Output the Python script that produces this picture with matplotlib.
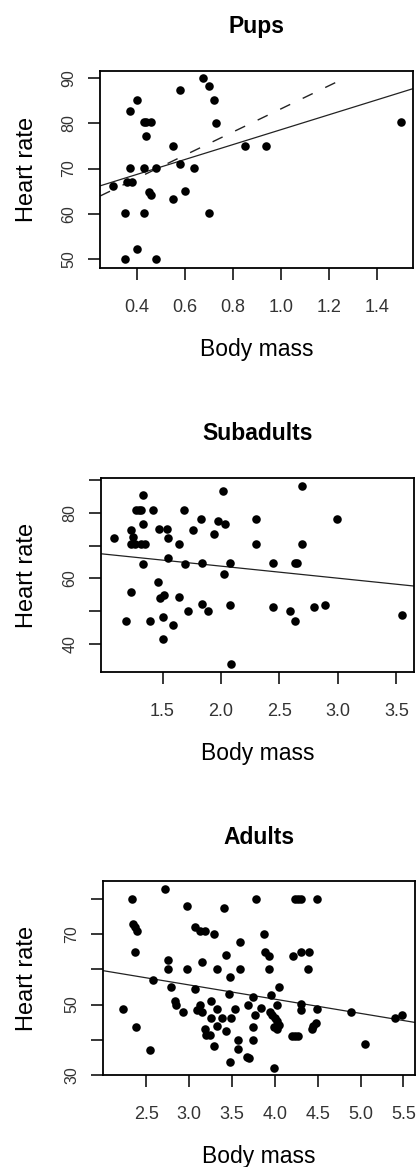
import matplotlib.pyplot as plt
import numpy as np

plt.rcParams['font.family'] = ['Liberation Sans', 'DejaVu Sans']

# Pups
pups_mass = [0.30, 0.35, 0.35, 0.37, 0.37, 0.36, 0.38, 0.40, 0.40,
             0.43, 0.44, 0.46, 0.44, 0.43, 0.43, 0.45, 0.46, 0.48, 0.48,
             0.55, 0.55, 0.58, 0.58, 0.60, 0.64, 0.675, 0.70, 0.70, 0.72,
             0.73, 0.85, 0.94, 1.50]
pups_hr = [66.2, 60.1, 50.0, 82.8, 70.2, 67.1, 67.1, 85.1, 52.2,
           80.3, 80.3, 80.3, 77.2, 70.2, 60.1, 64.9, 64.2, 70.2, 50.0,
           74.9, 63.2, 87.3, 71.0, 65.1, 70.2, 90.0, 88.2, 60.1, 85.1,
           80.2, 75.0, 75.0, 80.3]
pups_fit = (62.1, 16.5)        # intercept, slope (solid)
pups_fit_dash = (57.6, 25.6)   # fit without the outlier (dashed)
pups_dash_end = 1.26

# Subadults
sub_mass = [1.086, 1.186, 1.231, 1.229, 1.23, 1.25, 1.265, 1.27, 1.30, 1.32,
            1.33, 1.33, 1.32, 1.35, 1.337, 1.394, 1.417, 1.46, 1.466, 1.48,
            1.517, 1.50, 1.50, 1.537, 1.543, 1.543, 1.589, 1.637, 1.643, 1.68,
            1.689, 1.717, 1.76, 1.831, 1.837, 1.837, 1.886, 1.937, 1.971, 2.017,
            2.029, 2.031, 2.08, 2.08, 2.089, 2.303, 2.303, 2.446, 2.446, 2.594,
            2.629, 2.629, 2.65, 2.694, 2.694, 2.794, 2.894, 2.994, 3.551]
sub_hr = [72.2, 47.0, 55.9, 74.6, 70.4, 72.6, 70.6, 80.7, 80.7, 80.7,
          85.3, 76.4, 70.4, 70.4, 64.3, 47.0, 80.7, 58.9, 75.1, 54.2,
          54.9, 48.3, 41.6, 75.1, 72.3, 66.2, 45.8, 70.4, 54.4, 80.7,
          64.3, 50.0, 74.6, 78.2, 64.8, 52.1, 50.0, 73.4, 77.5, 86.5,
          61.3, 76.4, 64.8, 52.0, 34.1, 78.0, 70.4, 64.8, 51.3, 50.0,
          47.0, 64.8, 64.8, 88.1, 70.4, 51.3, 51.8, 78.2, 48.8]
sub_fit = (71.06, -3.66)

# Adults
ad_mass = [2.232, 2.329, 2.349, 2.368, 2.387, 2.368, 2.384, 2.539, 2.578, 2.717,
           2.756, 2.756, 2.791, 2.841, 2.849, 2.931, 2.977, 2.977, 3.067, 3.074,
           3.125, 3.19, 3.094, 3.125, 3.152, 3.152, 3.19, 3.20, 3.24, 3.25,
           3.26, 3.29, 3.295, 3.32, 3.33, 3.33, 3.385, 3.43, 3.43, 3.46,
           3.48, 3.49, 3.48, 3.41, 3.54, 3.57, 3.57, 3.59, 3.59, 3.68,
           3.70, 3.69, 3.74, 3.75, 3.75, 3.785, 3.77, 3.84, 3.87, 3.89,
           3.93, 3.93, 3.95, 3.94, 3.967, 4.006, 4.025, 3.986, 4.025, 4.044,
           3.995, 4.025, 4.05, 4.21, 4.20, 4.23, 4.27, 4.23, 4.27, 4.31,
           4.30, 4.30, 4.30, 4.40, 4.39, 4.43, 4.45, 4.48, 4.49, 4.49,
           4.89, 5.05, 5.40, 5.49]
ad_hr = [48.8, 79.9, 72.8, 72.1, 70.9, 65.0, 43.7, 37.1, 57.1, 82.8,
         62.6, 60.1, 55.1, 51.1, 50.0, 47.8, 77.9, 60.1, 54.3, 72.1,
         70.9, 70.9, 48.4, 50.0, 47.9, 62.1, 43.2, 41.3, 41.3, 51.1,
         46.1, 70.0, 38.3, 48.8, 60.1, 44.0, 46.1, 64.0, 42.6, 53.0,
         57.9, 46.1, 33.8, 77.3, 48.8, 39.9, 37.3, 67.8, 60.1, 35.0,
         34.7, 49.8, 52.2, 43.7, 39.9, 79.9, 47.0, 48.9, 70.0, 65.0,
         63.9, 60.1, 52.7, 47.8, 47.0, 46.3, 45.4, 43.7, 43.2, 44.2,
         31.9, 49.8, 55.1, 63.9, 41.1, 41.1, 41.1, 79.9, 79.9, 79.9,
         65.0, 50.1, 48.6, 65.0, 60.0, 43.2, 44.0, 44.9, 79.9, 48.8,
         47.8, 38.8, 46.1, 47.0]
ad_fit = (67.7, -4.04)

W, H = 418, 1167
fig = plt.figure(figsize=(W / 100, H / 100), dpi=100)

panels = [
    dict(title='Pups', x=pups_mass, y=pups_hr, fit=pups_fit,
         box=(100, 71, 413, 268), xlim=(0.247, 1.551), ylim=(48.0, 91.6),
         xticks=[0.4, 0.6, 0.8, 1.0, 1.2, 1.4],
         xlabels=['0.4', '0.6', '0.8', '1.0', '1.2', '1.4'],
         yticks=[50, 60, 70, 80, 90],
         ylabels=['50', '60', '70', '80', '90']),
    dict(title='Subadults', x=sub_mass, y=sub_hr, fit=sub_fit,
         box=(101, 478, 414, 672), xlim=(0.974, 3.651), ylim=(31.6, 90.5),
         xticks=[1.5, 2.0, 2.5, 3.0, 3.5],
         xlabels=['1.5', '2.0', '2.5', '3.0', '3.5'],
         yticks=[40, 50, 60, 70, 80, 90],
         ylabels=['40', '', '60', '', '80', '']),
    dict(title='Adults', x=ad_mass, y=ad_hr, fit=ad_fit,
         box=(103, 881, 415, 1075), xlim=(1.995, 5.636), ylim=(30.0, 85.1),
         xticks=[2.5, 3.0, 3.5, 4.0, 4.5, 5.0, 5.5],
         xlabels=['2.5', '3.0', '3.5', '4.0', '4.5', '5.0', '5.5'],
         yticks=[30, 40, 50, 60, 70, 80],
         ylabels=['30', '', '50', '', '70', '']),
]

for i, p in enumerate(panels):
    x0, y0, x1, y1 = p['box']
    ax = fig.add_axes([x0 / W, 1 - y1 / H, (x1 - x0) / W, (y1 - y0) / H])
    ax.scatter(p['x'], p['y'], s=38, color='black', linewidths=0, zorder=3)

    xs = np.array(p['xlim'])
    a, b = p['fit']
    ax.plot(xs, a + b * xs, color='#222222', lw=0.9)
    if i == 0:
        a2, b2 = pups_fit_dash
        xd = np.array([p['xlim'][0], pups_dash_end])
        ax.plot(xd, a2 + b2 * xd, color='#222222', lw=1.0, dashes=(8, 10))

    ax.set_xlim(p['xlim'])
    ax.set_ylim(p['ylim'])
    ax.set_xticks(p['xticks'])
    ax.set_xticklabels(p['xlabels'], fontsize=13, color='#333333')
    ax.set_yticks(p['yticks'])
    ax.set_yticklabels(p['ylabels'], fontsize=11.5, color='#333333',
                       rotation=90, va='center')
    ax.tick_params(axis='x', length=8.5, width=1.1, pad=13.5)
    ax.tick_params(axis='y', length=8.5, width=1.1, pad=8.5)
    for sp in ax.spines.values():
        sp.set_linewidth(1.3)

    ax.set_title(p['title'], fontsize=16.5, fontweight='bold', pad=27)
    ax.set_xlabel('Body mass', fontsize=16.5)
    ax.set_ylabel('Heart rate', fontsize=17)
    ax.xaxis.set_label_coords(0.5, -70 / (y1 - y0))
    ax.yaxis.set_label_coords((38 - x0) / (x1 - x0), 0.5)

fig.savefig('out.png', dpi=100)
